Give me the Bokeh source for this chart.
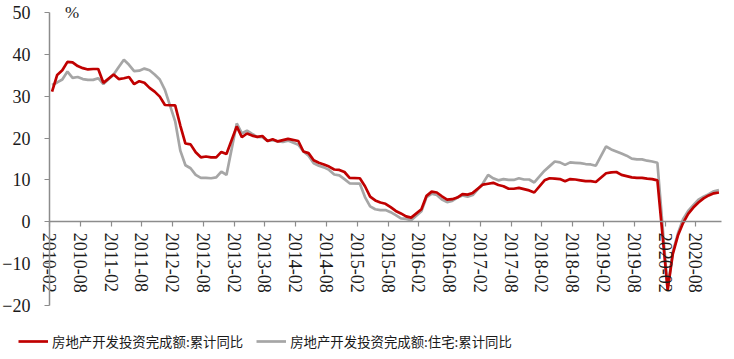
from bokeh.plotting import figure
from bokeh.models import FixedTicker, Range1d, Label, Legend, LegendItem, ColumnDataSource
from bokeh.embed import file_html
from bokeh.resources import INLINE

# Months (January has no data; the line connects December to February)
years = list(range(2010, 2021))
months = list(range(2, 13))
dates = [f"{y}-{m:02d}" for y in years for m in months]

# 房地产开发投资完成额:累计同比 (%)
total_yoy = [
    31.1, 35.1, 36.2, 38.2, 38.1, 37.2, 36.7, 36.4, 36.5, 36.5, 33.2,   # 2010
    35.2, 34.1, 34.3, 34.6, 32.9, 33.6, 33.2, 32.0, 31.1, 29.9, 27.9,   # 2011
    27.8, 23.0, 18.7, 18.5, 16.6, 15.4, 15.6, 15.4, 15.4, 16.7, 16.2,   # 2012
    22.8, 20.2, 21.1, 20.6, 20.3, 20.5, 19.3, 19.7, 19.2, 19.5, 19.8,   # 2013
    19.3, 16.8, 16.4, 14.7, 14.1, 13.7, 13.2, 12.5, 12.4, 11.9, 10.5,   # 2014
    10.4, 8.5, 6.0, 5.1, 4.6, 4.3, 3.5, 2.6, 2.0, 1.3, 1.0,             # 2015
    3.0, 6.2, 7.2, 7.0, 6.1, 5.3, 5.4, 5.8, 6.6, 6.5, 6.9,              # 2016
    8.9, 9.1, 9.3, 8.8, 8.5, 7.9, 7.9, 8.1, 7.8, 7.5, 7.0,              # 2017
    9.9, 10.4, 10.3, 10.2, 9.7, 10.2, 10.1, 9.9, 9.7, 9.7, 9.5,         # 2018
    11.6, 11.8, 11.9, 11.2, 10.9, 10.6, 10.5, 10.5, 10.3, 10.2, 9.9,    # 2019
    -16.3, -7.7, -3.3, -0.3, 1.9, 3.4, 4.6, 5.6, 6.3, 6.8, 7.0,         # 2020
]

# 房地产开发投资完成额:住宅:累计同比 (%)
housing_yoy = [
    32.7, 33.3, 34.0, 35.9, 34.4, 34.6, 34.1, 33.9, 33.9, 34.3, 32.9,   # 2010
    35.2, 37.0, 38.7, 37.5, 36.0, 36.1, 36.6, 36.2, 35.2, 34.0, 31.5,   # 2011
    24.0, 17.0, 13.5, 12.8, 11.2, 10.5, 10.5, 10.4, 10.6, 12.0, 11.2,   # 2012
    23.5, 21.1, 21.8, 21.0, 20.3, 20.2, 19.3, 19.5, 19.2, 19.1, 19.4,   # 2013
    18.4, 16.8, 15.8, 14.0, 13.4, 13.0, 12.4, 11.3, 11.1, 10.2, 9.2,    # 2014
    9.1, 5.9, 3.7, 3.0, 2.8, 2.8, 2.3, 1.6, 0.8, 0.7, 0.4,              # 2015
    2.5, 5.9, 6.7, 6.4, 5.3, 4.7, 5.0, 5.8, 6.3, 6.0, 6.4,              # 2016
    9.2, 11.2, 10.4, 9.9, 10.2, 10.0, 10.0, 10.4, 10.1, 10.1, 9.4,      # 2017
    12.2, 13.3, 14.4, 14.2, 13.6, 14.2, 14.1, 14.0, 13.8, 13.7, 13.4,   # 2018
    18.0, 17.3, 16.8, 16.3, 15.8, 15.1, 14.9, 14.9, 14.6, 14.4, 14.1,   # 2019
    -16.0, -7.2, -2.8, 0.6, 2.6, 4.0, 5.3, 6.0, 6.6, 7.3, 7.6,          # 2020
]

tick_labels = ["2010-02", "2010-08", "2011-02", "2011-08", "2012-02", "2012-08",
               "2013-02", "2013-08", "2014-02", "2014-08", "2015-02", "2015-08",
               "2016-02", "2016-08", "2017-02", "2017-08", "2018-02", "2018-08",
               "2019-02", "2019-08", "2020-02", "2020-08"]
y_ticks = [-20, -10, 0, 10, 20, 30, 40, 50]
series_names = ["房地产开发投资完成额:累计同比", "房地产开发投资完成额:住宅:累计同比"]


def month_index(s):
    y, m = s.split("-")
    return (int(y) - 2010) * 12 + int(m) - 2


n_months = month_index("2020-12") + 1
xs = [month_index(d) + 0.5 for d in dates]

SERIF = "Liberation Serif"
AXIS_COLOR = "#8c8c8c"

W, H = 730, 357
p = figure(width=W, height=H, output_backend="svg", toolbar_location=None,
           x_range=Range1d(-9.55, 132.75), y_range=Range1d(-32.42, 52.87),
           min_border=0, min_border_left=0, min_border_right=0,
           min_border_top=0, min_border_bottom=0)
p.xgrid.visible = False
p.ygrid.visible = False
p.outline_line_color = None
p.background_fill_color = "white"
p.border_fill_color = "white"

# x axis crossing at y = 0
xa = p.xaxis[0]
xa.fixed_location = 0
xa.bounds = (0, n_months)
tick_pos = [month_index(t) for t in tick_labels]
xa.ticker = FixedTicker(ticks=tick_pos)
xa.major_label_overrides = {tp: t for tp, t in zip(tick_pos, tick_labels)}
xa.major_label_orientation = "vertical"
xa.major_label_text_font = SERIF
xa.major_label_text_font_size = "18px"
xa.major_label_text_color = "#1a1a1a"
xa.major_label_standoff = 6
xa.axis_line_color = AXIS_COLOR
xa.axis_line_width = 1.5
xa.major_tick_line_color = AXIS_COLOR
xa.major_tick_line_width = 1.2
xa.major_tick_out = 5
xa.major_tick_in = 0
xa.minor_tick_line_color = None

# y axis at x = 0 (start of the period)
ya = p.yaxis[0]
ya.fixed_location = 0
ya.bounds = (-20, 50)
ya.ticker = FixedTicker(ticks=y_ticks)
ya.major_label_text_font = SERIF
ya.major_label_text_font_size = "18px"
ya.major_label_text_color = "#1a1a1a"
ya.major_label_standoff = 14
ya.axis_line_color = AXIS_COLOR
ya.axis_line_width = 1.5
ya.major_tick_line_color = AXIS_COLOR
ya.major_tick_line_width = 1.2
ya.major_tick_out = 5
ya.major_tick_in = 0
ya.minor_tick_line_color = None

src = ColumnDataSource(dict(x=xs, total=total_yoy, housing=housing_yoy))
r_gray = p.line("x", "housing", source=src, line_color="#a6a6a6", line_width=2.7)
r_red = p.line("x", "total", source=src, line_color="#c00000", line_width=2.7)

p.add_layout(Label(x=3, y=50, text="%", text_font=SERIF, text_font_size="17px",
                   text_color="#1a1a1a", text_baseline="middle", text_align="left"))

legend = Legend(items=[LegendItem(label=series_names[0], renderers=[r_red]),
                       LegendItem(label=series_names[1], renderers=[r_gray])],
                orientation="horizontal", location=(18, 6),
                label_text_font="Noto Sans CJK SC", label_text_font_size="13.4px",
                label_text_color="#1a1a1a", glyph_width=30, glyph_height=20,
                label_standoff=4, spacing=13, padding=0, margin=0,
                border_line_color=None, background_fill_alpha=0)
p.add_layout(legend, "center")

open("out.html", "w").write(file_html(p, INLINE))
